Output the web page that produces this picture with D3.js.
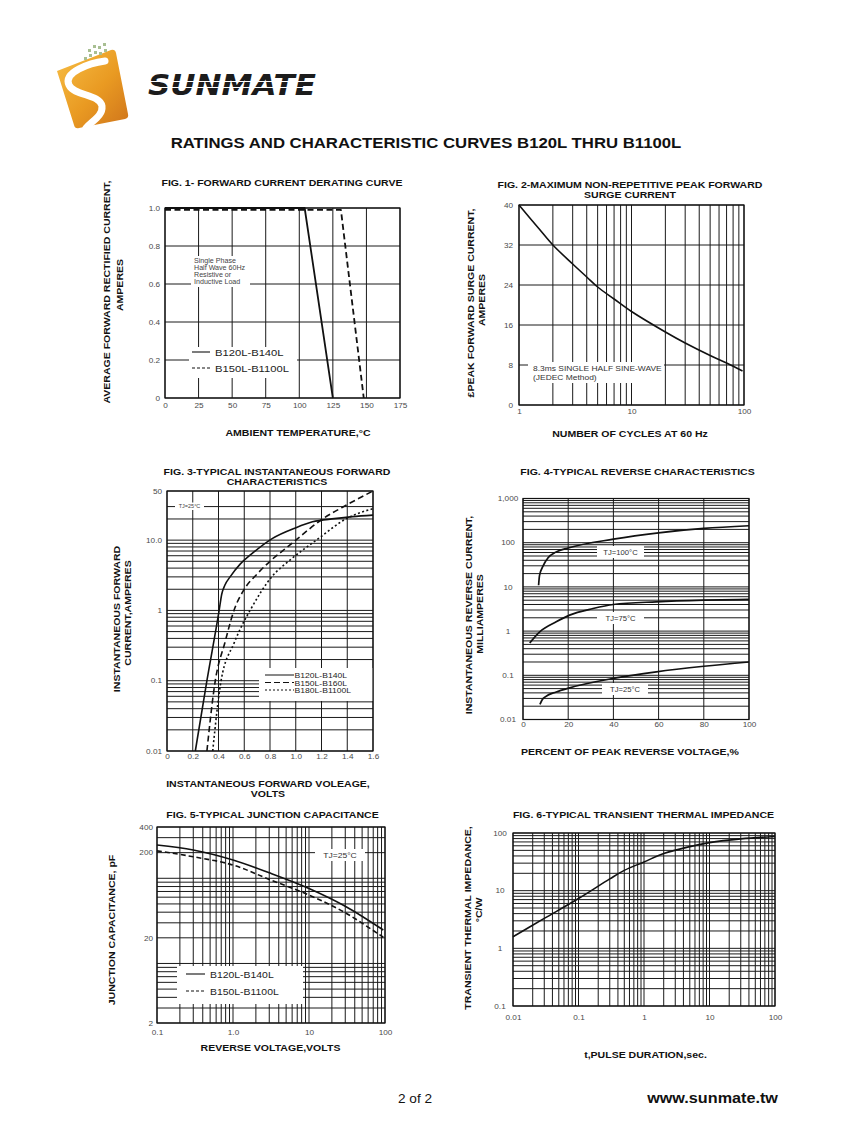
<!DOCTYPE html>
<html><head><meta charset="utf-8">
<script src="https://cdn.jsdelivr.net/npm/d3@7"></script>
<style>body{margin:0;background:#fff}svg{display:block}</style>
</head><body><svg id="c" width="847" height="1125"></svg>
<script>
// ================= DATA =================
// Fig 1 - forward current derating
const fig1TempTicks = [0,25,50,75,100,125,150,175];
const fig1CurrentTicks = [0,0.2,0.4,0.6,0.8,1.0];
const fig1TempA = [0,104,125];
const fig1CurrA = [1.0,1.0,0];
const fig1TempB = [0,131,148];
const fig1CurrB = [0.99,0.99,0];
const fig1Series = ['B120L-B140L','B150L-B1100L'];
const fig1Note = ['Single Phase','Half Wave 60Hz','Resistive or','Inductive Load'];
// Fig 2 - surge current
const fig2CycleTicks = [1,10,100];
const fig2SurgeTicks = [0,8,16,24,32,40];
const fig2Cycles = [1,1.5,2,3,4,5,7,10,20,30,50,70,97];
const fig2Surge  = [40,35.3,32,28.2,25.6,23.6,21.2,18.7,14.6,12.4,9.9,8.4,6.8];
const fig2Note = ['8.3ms SINGLE HALF SINE-WAVE','(JEDEC Method)'];
// Fig 3 - forward characteristics
const fig3VoltTicks = [0,0.2,0.4,0.6,0.8,1.0,1.2,1.4,1.6];
const fig3VoltLabels = ['0','0.2','0.4','0.6','0.8','1.0','1.2','1.4','1.6'];
const fig3CurrTicks = [0.01,0.1,1,10,50];
const fig3CurrLabels = ['0.01','0.1','1','10.0','50'];
const fig3VoltA = [0.22,0.31,0.405,0.425,0.45,0.49,0.57,0.65,0.82,1.0,1.13,1.3,1.44,1.6];
const fig3CurrA = [0.01,0.1,1,1.7,2.3,3,4.6,6.2,10.6,15,18.2,20.2,21.6,22.7];
const fig3VoltB = [0.31,0.375,0.45,0.52,0.6,0.7,0.8,0.9,1.0,1.2,1.4,1.6];
const fig3CurrB = [0.01,0.1,0.35,1,2,3.3,5,7.1,10,19.5,32,50];
const fig3VoltC = [0.355,0.42,0.52,0.58,0.645,0.813,0.955,1.16,1.41,1.6];
const fig3CurrC = [0.01,0.1,0.34,0.6,1,3,5.2,10,21,28];
const fig3Series = ['B120L-B140L','B150L-B160L','B180L-B1100L'];
// Fig 4 - reverse characteristics
const fig4PctTicks = [0,20,40,60,80,100];
const fig4CurrTicks = [0.01,0.1,1,10,100,1000];
const fig4CurrLabels = ['0.01','0.1','1','10','100','1,000'];
const fig4Pct100 = [6.9,7.3,8.85,11.1,14.7,20,40,60,80,100];
const fig4Curr100 = [10.9,18,29.5,45.5,62,76,120,167,210,242];
const fig4Pct75 = [3,7.4,14.7,20.6,31,40,59,80,100];
const fig4Curr75 = [0.54,0.96,1.62,2.3,3.24,4,4.6,5,5.2];
const fig4Pct25 = [7.5,8.5,10,14.7,20.6,40,59,80,100];
const fig4Curr25 = [0.022,0.028,0.033,0.042,0.052,0.085,0.12,0.16,0.2];
const fig4Labels = ['TJ=100°C','TJ=75°C','TJ=25°C'];
// Fig 5 - junction capacitance
const fig5VoltTicks = [0.1,1,10,100];
const fig5VoltLabels = ['0.1','1.0','10','100'];
const fig5CapTicks = [2,20,200,400];
const fig5Volt = [0.1,0.3,1,3,10,30,95];
const fig5CapA = [246,215,164,116,76,47,24.7];
const fig5CapB = [210,179,143,97,63.6,39.4,20.3];
const fig5Series = ['B120L-B140L','B150L-B1100L'];
// Fig 6 - transient thermal impedance
const fig6TimeTicks = [0.01,0.1,1,10,100];
const fig6ZTicks = [0.1,1,10,100];
const fig6Time = [0.01,0.03,0.1,0.3,0.5,1,2,5,10,30,100];
const fig6Z = [1.59,3.3,7.3,16,22.5,31.5,44,58,68,79,87];

// ================= DRAW =================
const FONT = '"Liberation Sans", Arial, Helvetica, sans-serif';
const INK = '#111';
const STRETCH = 1.17;
const svg = d3.select('#c').attr('font-family', FONT);
svg.append('rect').attr('width',847).attr('height',1125).attr('fill','#fff');

function txt(g, x, y, s, o = {}) {
  const t = g.append('text').attr('x', x).attr('y', y).text(s)
    .attr('font-size', o.size || 9).attr('font-weight', o.bold ? 'bold' : 'normal')
    .attr('text-anchor', o.anchor || 'start').attr('fill', o.fill || INK);
  if (o.k) t.attr('data-k', o.k);
  return t;
}
function vtxt(g, x, cy, s, o = {}) {
  const t = g.append('text').attr('transform', `translate(${x},${cy}) rotate(-90)`)
    .attr('text-anchor', 'middle').text(s)
    .attr('font-size', o.size || 9).attr('font-weight', 'bold').attr('fill', INK);
  if (o.k) t.attr('data-k', o.k);
  return t;
}
function whiteBox(g, x0, y0, x1, y1) {
  g.append('rect').attr('x', x0).attr('y', y0).attr('width', x1 - x0).attr('height', y1 - y0).attr('fill', '#fff');
}
function grid(g, x, y, xv, yv) {
  const [xa, xb] = x.range(), [ya, yb] = y.range();
  const gg = g.append('g').attr('stroke', '#1a1a1a').attr('stroke-width', 1);
  gg.selectAll('.v').data(xv).join('line').attr('class','v')
    .attr('x1', d => x(d)).attr('x2', d => x(d)).attr('y1', ya).attr('y2', yb);
  gg.selectAll('.h').data(yv).join('line').attr('class','h')
    .attr('y1', d => y(d)).attr('y2', d => y(d)).attr('x1', xa).attr('x2', xb);
}
function frame(g, x, y) {
  const [xa, xb] = x.range(), [ya, yb] = y.range();
  g.append('rect').attr('x', xa).attr('y', yb).attr('width', xb - xa).attr('height', ya - yb)
    .attr('fill', 'none').attr('stroke', '#111').attr('stroke-width', 1.2);
}
function ticks(g, x, y, xv, xl, yv, yl, xpad, ypad, size) {
  const bx = g.append('g').attr('transform', `translate(0,${y.range()[0]})`)
    .call(d3.axisBottom(x).tickValues(xv).tickFormat((d, i) => xl[i]).tickSize(0).tickPadding(xpad));
  const ly = g.append('g').attr('transform', `translate(${x.range()[0]},0)`)
    .call(d3.axisLeft(y).tickValues(yv).tickFormat((d, i) => yl[i]).tickSize(0).tickPadding(ypad));
  [bx, ly].forEach(a => {
    a.select('.domain').remove();
    a.attr('font-family', FONT).attr('font-size', size || 7);
    a.selectAll('text').attr('fill', '#4a4a4a');
  });
  return ly;
}
function curve(g, x, y, xs, ys, o = {}) {
  const pts = xs.map((d, i) => [d, ys[i]]);
  const cv = o.linear ? d3.curveLinear : (o.smooth ? d3.curveCatmullRom.alpha(0.5) : d3.curveMonotoneX);
  const line = d3.line().x(d => x(d[0])).y(d => y(d[1])).curve(cv);
  g.append('path').datum(pts).attr('d', line).attr('fill', 'none')
    .attr('stroke', '#111').attr('stroke-width', o.w || 1.6)
    .attr('stroke-dasharray', o.dash || null).attr('stroke-linejoin', 'round');
}
function legendLine(g, x0, x1, yy, dash, w) {
  g.append('line').attr('x1', x0).attr('x2', x1).attr('y1', yy).attr('y2', yy)
    .attr('stroke', '#111').attr('stroke-width', w || 1).attr('stroke-dasharray', dash || null);
}

// ---------- Header ----------
const defs = svg.append('defs');
const og = defs.append('linearGradient').attr('id', 'og').attr('x1', 0).attr('y1', 0).attr('x2', 1).attr('y2', 1);
og.append('stop').attr('offset', 0).attr('stop-color', '#F7BE45');
og.append('stop').attr('offset', 0.55).attr('stop-color', '#E99A22');
og.append('stop').attr('offset', 1).attr('stop-color', '#CF741B');
const logo = svg.append('g');
logo.append('path').attr('d', 'M57,71 L111,50 Q115,49 116,53 L128,114 Q129,118 125,119 L79,128 Q75,129 74,125 Z').attr('fill', 'url(#og)');
logo.append('path').attr('d', 'M105,61 C90,63 63,72 69,85 C74,96 100,94 102,106 C103,116 92,121 86,128')
  .attr('fill', 'none').attr('stroke', '#fff').attr('stroke-width', 7).attr('stroke-linecap', 'round');
[[84,57],[89,54],[94,51],[98,46],[103,43],[88,49],[93,45],[99,52],[104,49]].forEach(p =>
  logo.append('rect').attr('x', p[0]).attr('y', p[1]).attr('width', 3).attr('height', 3).attr('fill', '#a8bf92'));
logo.append('text').attr('x', 148).attr('y', 95).text('SUNMATE')
  .attr('font-family', '"DejaVu Sans", sans-serif').attr('font-weight', 'bold').attr('font-style', 'italic')
  .attr('font-size', 28).attr('textLength', 168).attr('lengthAdjust', 'spacingAndGlyphs').attr('fill', '#1c1c1c');
[81.5, 87.5].forEach(yy => logo.append('line').attr('x1', 140).attr('x2', 330).attr('y1', yy).attr('y2', yy)
  .attr('stroke', '#fff').attr('stroke-width', 1.1));

txt(svg, 426, 148, 'RATINGS AND CHARACTERISTIC CURVES B120L THRU B1100L', {size: 14, bold: true, anchor: 'middle', k: 1.195});

// ---------- Fig 1 ----------
{
  const g = svg.append('g');
  const x = d3.scaleLinear().domain([0,175]).range([165,400]);
  const y = d3.scaleLinear().domain([0,1]).range([398,208]);
  grid(g, x, y, fig1TempTicks, fig1CurrentTicks);
  whiteBox(g, 191, 256, 250, 287);
  fig1Note.forEach((s, i) => txt(g, 194, 263 + i * 7, s, {size: 6.3, fill: '#444', k: 1.13}));
  whiteBox(g, 189, 347, 297, 378);
  legendLine(g, 192, 210, 352, null, 1.1);
  legendLine(g, 192, 210, 368, '3,2', 1.1);
  txt(g, 215, 355.5, fig1Series[0], {size: 9.5, fill: '#222', k: 1.18});
  txt(g, 215, 371.5, fig1Series[1], {size: 9.5, fill: '#222', k: 1.18});
  frame(g, x, y);
  curve(g, x, y, fig1TempB, fig1CurrB, {linear: true, dash: '6,3.5', w: 1.8});
  curve(g, x, y, fig1TempA, fig1CurrA, {linear: true, w: 1.8});
  ticks(g, x, y, fig1TempTicks, fig1TempTicks.map(String), fig1CurrentTicks,
        fig1CurrentTicks.map(d => d === 0 ? '0' : d.toFixed(1)), 5.5, 5);
  txt(g, 282, 185.5, 'FIG. 1- FORWARD CURRENT DERATING CURVE', {size: 9, bold: true, anchor: 'middle'});
  txt(g, 298, 436, 'AMBIENT TEMPERATURE,°C', {size: 9, bold: true, anchor: 'middle'});
  vtxt(g, 109.5, 292, 'AVERAGE FORWARD RECTIFIED CURRENT,');
  vtxt(g, 122.5, 285, 'AMPERES');
}

// ---------- Fig 2 ----------
{
  const g = svg.append('g');
  const x = d3.scaleLog().domain([1,100]).range([519,744]);
  const y = d3.scaleLinear().domain([0,40]).range([405,205]);
  grid(g, x, y, x.ticks(), fig2SurgeTicks);
  whiteBox(g, 528, 362, 664, 383);
  txt(g, 533, 370.5, fig2Note[0], {size: 7.8, fill: '#333', k: 1.08});
  txt(g, 533, 380, fig2Note[1], {size: 7.8, fill: '#333', k: 1.08});
  frame(g, x, y);
  curve(g, x, y, fig2Cycles, fig2Surge, {w: 1.6, smooth: true});
  ticks(g, x, y, fig2CycleTicks, fig2CycleTicks.map(String), fig2SurgeTicks, fig2SurgeTicks.map(String), 4.5, 6);
  txt(g, 630, 187.5, 'FIG. 2-MAXIMUM NON-REPETITIVE PEAK FORWARD', {size: 9, bold: true, anchor: 'middle'});
  txt(g, 630, 198, 'SURGE CURRENT', {size: 9, bold: true, anchor: 'middle'});
  txt(g, 630, 436.5, 'NUMBER OF CYCLES AT 60 Hz', {size: 9, bold: true, anchor: 'middle'});
  vtxt(g, 474, 303, '£PEAK  FORWARD SURGE CURRENT,');
  vtxt(g, 484.5, 300, 'AMPERES');
}

// ---------- Fig 3 ----------
{
  const g = svg.append('g');
  const x = d3.scaleLinear().domain([0,1.6]).range([167,373]);
  const y = d3.scaleLog().domain([0.01,50]).range([751,491]);
  grid(g, x, y, fig3VoltTicks, y.ticks().filter(v => Math.abs(v - 40) > 1e-6));
  whiteBox(g, 175, 502.5, 204, 510);
  txt(g, 189.5, 508, 'TJ=25°C', {size: 5, anchor: 'middle', fill: '#444', k: 1.1});
  whiteBox(g, 259, 668, 373, 701);
  legendLine(g, 265, 294, 675, null, 1);
  legendLine(g, 265, 294, 682.5, '6,3', 1);
  legendLine(g, 265, 294, 690, '2,2', 1);
  fig3Series.forEach((s, i) => txt(g, 294.5, 678 + i * 7.5, s, {size: 7.6, fill: '#222', k: 1.13}));
  frame(g, x, y);
  curve(g, x, y, fig3VoltC, fig3CurrC, {dash: '2,2.4', w: 1.6});
  curve(g, x, y, fig3VoltB, fig3CurrB, {dash: '6,3.5', w: 1.6});
  curve(g, x, y, fig3VoltA, fig3CurrA, {w: 1.6});
  ticks(g, x, y, fig3VoltTicks, fig3VoltLabels, fig3CurrTicks, fig3CurrLabels, 3.5, 5);
  txt(g, 277, 475, 'FIG. 3-TYPICAL INSTANTANEOUS FORWARD', {size: 9, bold: true, anchor: 'middle'});
  txt(g, 277, 485, 'CHARACTERISTICS', {size: 9, bold: true, anchor: 'middle'});
  txt(g, 268, 786.5, 'INSTANTANEOUS FORWARD VOLEAGE,', {size: 9, bold: true, anchor: 'middle'});
  txt(g, 268, 796.5, 'VOLTS', {size: 9, bold: true, anchor: 'middle'});
  vtxt(g, 120, 619, 'INSTANTANEOUS FORWARD');
  vtxt(g, 130.7, 613, 'CURRENT,AMPERES');
}

// ---------- Fig 4 ----------
{
  const g = svg.append('g');
  const x = d3.scaleLinear().domain([0,100]).range([523,749]);
  const y = d3.scaleLog().domain([0.01,1000]).range([719.5,498.5]);
  grid(g, x, y, fig4PctTicks, y.ticks());
  const boxes = [[597,546,644,558,620.5,555],[597,612,644,624,620.5,621],[602,683,648,695,625,692]];
  boxes.forEach((b, i) => { whiteBox(g, b[0], b[1], b[2], b[3]); txt(g, b[4], b[5], fig4Labels[i], {size: 7.5, anchor: 'middle', fill: '#333', k: 1.02}); });
  frame(g, x, y);
  curve(g, x, y, fig4Pct100, fig4Curr100, {w: 1.7});
  curve(g, x, y, fig4Pct75, fig4Curr75, {w: 1.7});
  curve(g, x, y, fig4Pct25, fig4Curr25, {w: 1.7});
  const ly = ticks(g, x, y, fig4PctTicks, fig4PctTicks.map(String), fig4CurrTicks, fig4CurrLabels, 2.5, 3);
  ly.selectAll('text').attr('text-anchor', 'middle').attr('x', -15);
  txt(g, 637.5, 475, 'FIG. 4-TYPICAL REVERSE CHARACTERISTICS', {size: 9, bold: true, anchor: 'middle'});
  txt(g, 630, 755, 'PERCENT OF PEAK REVERSE VOLTAGE,%', {size: 9, bold: true, anchor: 'middle'});
  vtxt(g, 471.7, 615, 'INSTANTANEOUS REVERSE CURRENT,');
  vtxt(g, 482.7, 614, 'MILLIAMPERES');
}

// ---------- Fig 5 ----------
{
  const g = svg.append('g');
  const x = d3.scaleLog().domain([0.1,100]).range([157,385]);
  const y = d3.scaleLog().domain([2,400]).range([1023,827]);
  grid(g, x, y, x.ticks(), y.ticks());
  whiteBox(g, 315, 849, 365, 861);
  txt(g, 340, 858, 'TJ=25°C', {size: 7.5, anchor: 'middle', fill: '#333', k: 1.14});
  whiteBox(g, 177, 966, 303, 1004);
  legendLine(g, 186, 205, 974, null, 1.1);
  legendLine(g, 186, 205, 991, '3,2', 1.1);
  txt(g, 210, 977.5, fig5Series[0], {size: 9.3, fill: '#222', k: 1.12});
  txt(g, 210, 994.5, fig5Series[1], {size: 9.3, fill: '#222', k: 1.12});
  frame(g, x, y);
  curve(g, x, y, fig5Volt, fig5CapB, {dash: '5,3', w: 1.6, smooth: true});
  curve(g, x, y, fig5Volt, fig5CapA, {w: 1.6, smooth: true});
  ticks(g, x, y, fig5VoltTicks, fig5VoltLabels, fig5CapTicks, fig5CapTicks.map(String), 7, 4);
  txt(g, 272.5, 818, 'FIG. 5-TYPICAL JUNCTION CAPACITANCE', {size: 9, bold: true, anchor: 'middle'});
  txt(g, 270.5, 1050.5, 'REVERSE VOLTAGE,VOLTS', {size: 9, bold: true, anchor: 'middle'});
  vtxt(g, 115, 930, 'JUNCTION CAPACITANCE, pF');
}

// ---------- Fig 6 ----------
{
  const g = svg.append('g');
  const x = d3.scaleLog().domain([0.01,100]).range([513,775]);
  const y = d3.scaleLog().domain([0.1,100]).range([1006,833]);
  grid(g, x, y, x.ticks(), y.ticks());
  frame(g, x, y);
  curve(g, x, y, fig6Time, fig6Z, {w: 1.6, smooth: true});
  const ly = ticks(g, x, y, fig6TimeTicks, fig6TimeTicks.map(String), fig6ZTicks, fig6ZTicks.map(String), 9, 9);
  ly.selectAll('text').attr('text-anchor', 'middle').attr('x', -13);
  txt(g, 643.5, 818, 'FIG. 6-TYPICAL TRANSIENT THERMAL IMPEDANCE', {size: 9, bold: true, anchor: 'middle'});
  txt(g, 645.5, 1058, 't,PULSE DURATION,sec.', {size: 9, bold: true, anchor: 'middle'});
  vtxt(g, 471, 918, 'TRANSIENT THERMAL IMPEDANCE,');
  vtxt(g, 481.7, 910, '°C/W');
}

// ---------- Footer ----------
txt(svg, 398, 1103, '2 of 2', {size: 12.5, fill: '#111', k: 1.09});
txt(svg, 778, 1103, 'www.sunmate.tw', {size: 15, bold: true, anchor: 'end', fill: '#111', k: 1.08});

// ---------- horizontal stretch of text (the source's type is set wide) ----------
svg.selectAll('text').each(function () {
  if (this.hasAttribute('textLength')) return;
  const k = +this.getAttribute('data-k') || STRETCH;
  const L = this.getComputedTextLength();
  if (L > 0) { this.setAttribute('textLength', (L * k).toFixed(2)); this.setAttribute('lengthAdjust', 'spacingAndGlyphs'); }
});
</script></body></html>
